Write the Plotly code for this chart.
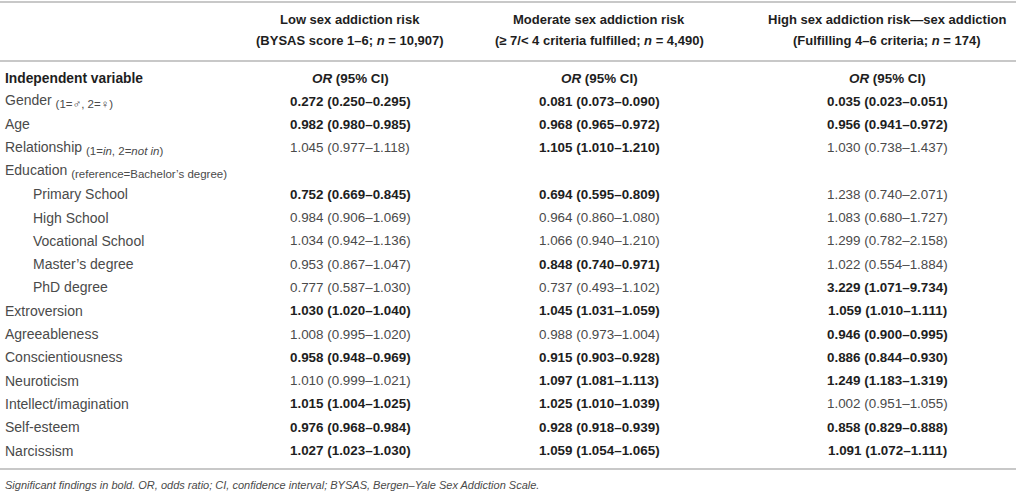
import plotly.graph_objects as go

# row labels (body of the table)
variables = ["Gender", "Age", "Relationship", "Education", "Primary School", "High School",
             "Vocational School", "Master’s degree", "PhD degree", "Extroversion",
             "Agreeableness", "Conscientiousness", "Neuroticism", "Intellect/imagination",
             "Self-esteem", "Narcissism"]
var_notes = ["(1=♂, 2=♀)", "", "(1=<i>in</i>, 2=<i>not in</i>)", "(reference=Bachelor’s degree)",
             "", "", "", "", "", "", "", "", "", "", "", ""]
indented = [False, False, False, False, True, True, True, True, True,
            False, False, False, False, False, False, False]

# column headers
group_titles = ["Low sex addiction risk", "Moderate sex addiction risk",
                "High sex addiction risk—sex addiction"]
group_subtitles = ["(BYSAS score 1–6; <i>n</i> = 10,907)",
                   "(≥ 7/< 4 criteria fulfilled; <i>n</i> = 4,490)",
                   "(Fulfilling 4–6 criteria; <i>n</i> = 174)"]

# OR (95% CI) per group
low_or = ["0.272 (0.250–0.295)", "0.982 (0.980–0.985)", "1.045 (0.977–1.118)", "",
          "0.752 (0.669–0.845)", "0.984 (0.906–1.069)", "1.034 (0.942–1.136)",
          "0.953 (0.867–1.047)", "0.777 (0.587–1.030)", "1.030 (1.020–1.040)",
          "1.008 (0.995–1.020)", "0.958 (0.948–0.969)", "1.010 (0.999–1.021)",
          "1.015 (1.004–1.025)", "0.976 (0.968–0.984)", "1.027 (1.023–1.030)"]
low_sig = [1, 1, 0, 0, 1, 0, 0, 0, 0, 1, 0, 1, 0, 1, 1, 1]

mod_or = ["0.081 (0.073–0.090)", "0.968 (0.965–0.972)", "1.105 (1.010–1.210)", "",
          "0.694 (0.595–0.809)", "0.964 (0.860–1.080)", "1.066 (0.940–1.210)",
          "0.848 (0.740–0.971)", "0.737 (0.493–1.102)", "1.045 (1.031–1.059)",
          "0.988 (0.973–1.004)", "0.915 (0.903–0.928)", "1.097 (1.081–1.113)",
          "1.025 (1.010–1.039)", "0.928 (0.918–0.939)", "1.059 (1.054–1.065)"]
mod_sig = [1, 1, 1, 0, 1, 0, 0, 1, 0, 1, 0, 1, 1, 1, 1, 1]

high_or = ["0.035 (0.023–0.051)", "0.956 (0.941–0.972)", "1.030 (0.738–1.437)", "",
           "1.238 (0.740–2.071)", "1.083 (0.680–1.727)", "1.299 (0.782–2.158)",
           "1.022 (0.554–1.884)", "3.229 (1.071–9.734)", "1.059 (1.010–1.111)",
           "0.946 (0.900–0.995)", "0.886 (0.844–0.930)", "1.249 (1.183–1.319)",
           "1.002 (0.951–1.055)", "0.858 (0.829–0.888)", "1.091 (1.072–1.111)"]
high_sig = [1, 1, 0, 0, 0, 0, 0, 0, 1, 1, 1, 1, 1, 0, 1, 1]

footnote = ("Significant findings in bold. OR, odds ratio; CI, confidence interval; "
            "BYSAS, Bergen–Yale Sex Addiction Scale.")

W, H = 1016, 497
FONT = "Liberation Sans, Arial, Helvetica, sans-serif"
DARK = "#1e1e1e"
GREY = "#4a4a4a"
RULE = "#c8c8c8"

col_x = [350, 599, 887]
label_x = 3
indent_x = 31
head_y = [19, 40]
sub_head_y = 78
first_row_y = 101
row_h = 23.3
rules_y = [2, 61, 469]
foot_y = 485

fig = go.Figure()
ann = []


def add_text(x, y, text, color=GREY, size=13, xanchor="center"):
    ann.append(dict(x=x, y=y, text=text, showarrow=False, xanchor=xanchor, yanchor="middle",
                    xref="x", yref="y", font=dict(family=FONT, size=size, color=color)))


# header
for j in range(3):
    add_text(col_x[j], head_y[0], "<b>" + group_titles[j] + "</b>", DARK)
    add_text(col_x[j], head_y[1], "<b>" + group_subtitles[j] + "</b>", DARK)
    add_text(col_x[j], sub_head_y, "<b><i>OR</i> (95% CI)</b>", DARK, size=13.4)
add_text(label_x, sub_head_y, "<b>Independent variable</b>", DARK, size=13.8, xanchor="left")

# body
for i, name in enumerate(variables):
    y = first_row_y + i * row_h
    label = name
    if var_notes[i]:
        label += " <sub><span style='font-size:11.5px'>" + var_notes[i] + "</span></sub>"
    add_text(indent_x if indented[i] else label_x, y, label, GREY, size=14, xanchor="left")
    for j, (vals, sig) in enumerate([(low_or, low_sig), (mod_or, mod_sig), (high_or, high_sig)]):
        if not vals[i]:
            continue
        if sig[i]:
            add_text(col_x[j], y, "<b>" + vals[i] + "</b>", DARK, size=13.4)
        else:
            add_text(col_x[j], y, vals[i], GREY, size=13.4)

add_text(label_x, foot_y, "<i>" + footnote + "</i>", GREY, size=11, xanchor="left")

for ry in rules_y:
    fig.add_shape(type="line", x0=0, x1=W, y0=ry, y1=ry, xref="x", yref="y",
                  line=dict(color=RULE, width=2))

fig.update_layout(
    width=W, height=H,
    margin=dict(l=0, r=0, t=0, b=0),
    paper_bgcolor="white", plot_bgcolor="white",
    xaxis=dict(range=[0, W], visible=False, fixedrange=True),
    yaxis=dict(range=[H, 0], visible=False, fixedrange=True),
    annotations=ann,
    showlegend=False,
)

# drop the page's default 8px body margin so the figure sits at the window corner
fig.write_html("out.html", config={"displayModeBar": False},
               post_script="document.body.style.margin='0';")
